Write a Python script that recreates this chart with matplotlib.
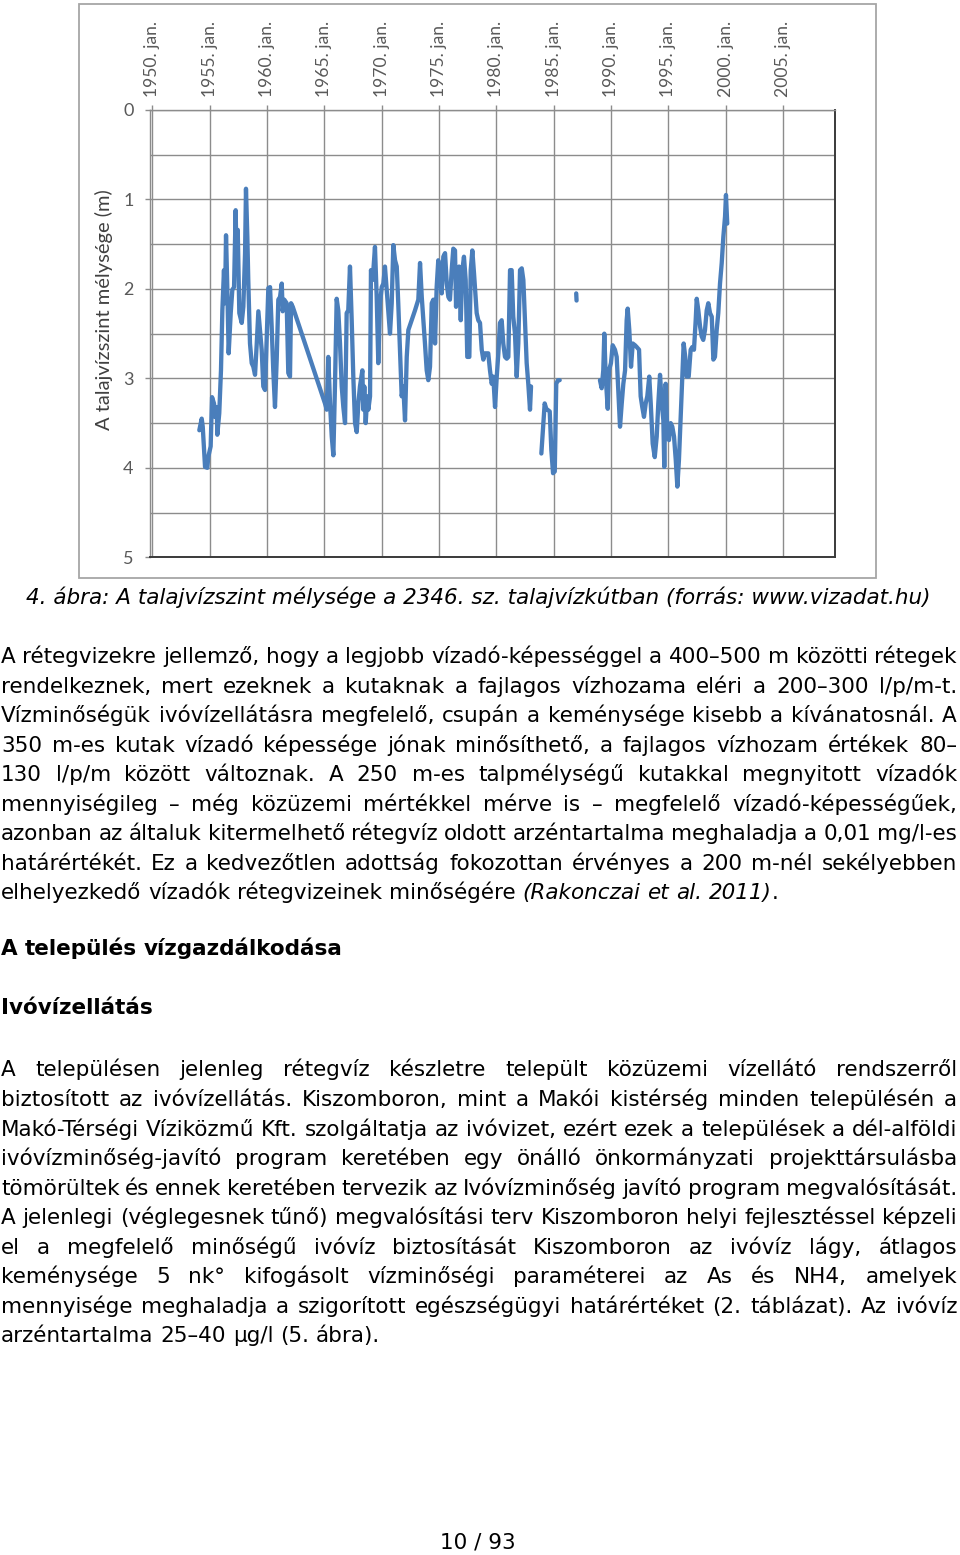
import matplotlib
matplotlib.use('Agg')
import matplotlib.pyplot as plt
from matplotlib.patches import Rectangle

nan = float('nan')

# ---------------- data ----------------
years = [
    1954.09, 1954.30, 1954.39, 1954.59, 1954.79, 1954.87, 1955.08, 1955.20, 1955.37, 1955.46,
    1955.61, 1955.66, 1955.83, 1955.98, 1956.10, 1956.24, 1956.33, 1956.42, 1956.53, 1956.65,
    1956.83, 1956.97, 1957.12, 1957.26, 1957.35, 1957.44, 1957.58, 1957.79, 1957.93, 1958.08,
    1958.16, 1958.28, 1958.36, 1958.51, 1958.66, 1958.80, 1958.95, 1959.10, 1959.24, 1959.38,
    1959.53, 1959.67, 1959.82, 1959.97, 1960.11, 1960.26, 1960.40, 1960.54, 1960.69, 1960.84,
    1960.98, 1961.13, 1961.28, 1961.36, 1961.50, 1961.71, 1961.85, 1962.00, 1962.09, 1962.24,
    1965.05, 1965.20, 1965.34, 1965.49, 1965.64, 1965.78, 1965.92, 1966.07, 1966.21, 1966.36,
    1966.51, 1966.65, 1966.80, 1966.94, 1967.08, 1967.23, 1967.38, 1967.52, 1967.67, 1967.82,
    1967.96, 1968.10, 1968.31, 1968.39, 1968.48, 1968.60, 1968.74, 1968.83, 1968.98, 1969.06,
    1969.21, 1969.41, 1969.56, 1969.70, 1969.85, 1970.00, 1970.14, 1970.28, 1970.43, 1970.57,
    1970.72, 1970.87, 1971.01, 1971.16, 1971.31, 1971.44, 1971.59, 1971.74, 1971.88, 1972.03,
    1972.18, 1972.32, 1972.61, 1972.90, 1973.19, 1973.34, 1973.49, 1973.63, 1973.77, 1973.92,
    1974.06, 1974.21, 1974.36, 1974.50, 1974.65, 1974.79, 1974.93, 1975.08, 1975.23, 1975.37,
    1975.52, 1975.67, 1975.81, 1975.95, 1976.10, 1976.24, 1976.39, 1976.48, 1976.59, 1976.74,
    1976.89, 1977.03, 1977.17, 1977.32, 1977.46, 1977.64, 1977.76, 1977.90, 1978.05, 1978.28,
    1978.42, 1978.57, 1978.72, 1978.86, 1979.01, 1979.29, 1979.44, 1979.59, 1979.73, 1979.88,
    1980.03, 1980.17, 1980.31, 1980.46, 1980.60, 1980.75, 1980.90, 1981.04, 1981.19, 1981.33,
    1981.47, 1981.62, 1981.77, 1981.91, 1982.06, 1982.21, 1982.35, 1982.49, 1982.64, 1982.78,
    1982.93, 1983.02, nan,
    1983.92, 1984.21, 1984.35, 1984.65, 1984.79, 1984.94, 1985.09, 1985.22, 1985.37, 1985.52,
    nan, 1986.96, 1986.99, nan,
    1989.03, 1989.18, 1989.32, 1989.41, 1989.53, 1989.71, 1989.82, 1989.99, 1990.14, 1990.34,
    1990.49, 1990.63, 1990.78, 1990.93, 1991.07, 1991.22, 1991.36, 1991.45, 1991.59, 1991.74,
    1991.89, 1992.09, 1992.24, 1992.44, 1992.58, 1992.72, 1992.87, 1993.02, 1993.16, 1993.33,
    1993.46, 1993.63, 1993.81, 1993.98, 1994.12, 1994.27, 1994.42, 1994.56, 1994.64, 1994.76,
    1994.90, 1995.05, 1995.20, 1995.34, 1995.49, 1995.64, 1995.78, 1995.92, 1996.07, 1996.21,
    1996.33, 1996.47, 1996.60, 1996.77, 1996.94, 1997.08, 1997.23, 1997.38, 1997.47, 1997.61,
    1997.76, 1997.90, 1998.04, 1998.19, 1998.34, 1998.48, 1998.63, 1998.78, 1998.92, 1999.06,
    1999.21, 1999.35, 1999.50, 1999.65, 1999.79, 1999.94, 2000.02, 2000.13,
]
depth_m = [
    3.58, 3.45, 3.54, 3.99, 4.00, 3.88, 3.76, 3.21, 3.28, 3.43,
    3.32, 3.63, 3.39, 2.91, 2.24, 1.79, 2.16, 1.40, 1.98, 2.72,
    2.27, 2.01, 1.98, 1.12, 1.79, 1.34, 2.27, 2.38, 2.20, 1.60,
    0.88, 1.42, 1.90, 2.61, 2.83, 2.87, 2.96, 2.61, 2.25, 2.46,
    2.68, 3.09, 3.13, 2.53, 1.99, 1.98, 2.42, 2.91, 3.32, 2.79,
    2.12, 2.09, 1.94, 2.25, 2.12, 2.16, 2.94, 2.98, 2.16, 2.20,
    3.28, 3.35, 2.76, 3.28, 3.65, 3.86, 3.09, 2.11, 2.24, 2.61,
    3.09, 3.32, 3.50, 2.27, 2.24, 1.75, 2.35, 2.98, 3.50, 3.60,
    3.28, 3.09, 2.91, 3.35, 3.09, 3.50, 3.20, 3.35, 3.20, 1.79,
    1.90, 1.53, 2.09, 2.83, 2.16, 1.98, 1.94, 1.75, 2.01, 2.24,
    2.50, 2.16, 1.51, 1.68, 1.75, 2.16, 2.68, 3.20, 3.09, 3.47,
    2.76, 2.46, 2.35, 2.24, 2.12, 1.71, 2.09, 2.35, 2.61, 2.91,
    3.02, 2.87, 2.16, 2.12, 2.61, 1.98, 1.68, 1.90, 2.05, 1.64,
    1.60, 1.94, 2.09, 2.12, 1.79, 1.55, 1.57, 2.20, 1.79, 1.75,
    2.35, 1.79, 1.64, 1.90, 2.76, 2.76, 1.79, 1.57, 1.83, 2.27,
    2.35, 2.38, 2.68, 2.79, 2.72, 2.72, 2.91, 3.06, 2.98, 3.32,
    2.98, 2.72, 2.38, 2.35, 2.61, 2.76, 2.78, 2.76, 1.79, 1.79,
    2.31, 2.50, 2.98, 2.61, 1.79, 1.77, 1.90, 2.35, 2.83, 3.06,
    3.35, 3.09, nan,
    3.84, 3.28, 3.34, 3.37, 3.80, 4.06, 4.04, 3.06, 3.02, 3.02,
    nan, 2.05, 2.13, nan,
    3.02, 3.11, 2.91, 2.50, 2.98, 3.34, 2.91, 2.83, 2.63, 2.68,
    2.76, 3.13, 3.54, 3.28, 3.06, 2.91, 2.35, 2.22, 2.46, 2.87,
    2.61, 2.63, 2.65, 2.68, 3.20, 3.32, 3.43, 3.28, 3.20, 2.98,
    3.28, 3.73, 3.88, 3.65, 3.28, 2.96, 3.28, 3.47, 3.99, 3.06,
    3.58, 3.69, 3.50, 3.54, 3.65, 3.91, 4.21, 3.91, 3.43, 2.98,
    2.61, 2.76, 2.98, 2.98, 2.68, 2.65, 2.68, 2.35, 2.11, 2.24,
    2.42, 2.53, 2.57, 2.46, 2.24, 2.16, 2.27, 2.31, 2.79, 2.76,
    2.46, 2.27, 1.94, 1.71, 1.42, 1.19, 0.95, 1.27,
]
tick_years = [1950, 1955, 1960, 1965, 1970, 1975, 1980, 1985, 1990, 1995, 2000, 2005]
tick_labels = [f"{y}. jan." for y in tick_years]
depth_ticks = [0, 1, 2, 3, 4, 5]
depth_minor = [0.5, 1.5, 2.5, 3.5, 4.5]
y_label = "A talajvízszint mélysége (m)"

caption = "4. ábra: A talajvízszint mélysége a 2346. sz. talajvízkútban (forrás: www.vizadat.hu)"
para1 = [
    "A rétegvizekre jellemző, hogy a legjobb vízadó-képességgel a 400–500 m közötti rétegek",
    "rendelkeznek, mert ezeknek a kutaknak a fajlagos vízhozama eléri a 200–300 l/p/m-t.",
    "Vízminőségük ivóvízellátásra megfelelő, csupán a keménysége kisebb a kívánatosnál. A",
    "350 m-es kutak vízadó képessége jónak minősíthető, a fajlagos vízhozam értékek 80–",
    "130 l/p/m között változnak. A 250 m-es talpmélységű kutakkal megnyitott vízadók",
    "mennyiségileg – még közüzemi mértékkel mérve is – megfelelő vízadó-képességűek,",
    "azonban az általuk kitermelhető rétegvíz oldott arzéntartalma meghaladja a 0,01 mg/l-es",
    "határértékét. Ez a kedvezőtlen adottság fokozottan érvényes a 200 m-nél sekélyebben",
    "elhelyezkedő vízadók rétegvizeinek minőségére *(Rakonczai et al. 2011)*.",
]
heading1 = "A település vízgazdálkodása"
heading2 = "Ivóvízellátás"
para2 = [
    "A településen jelenleg rétegvíz készletre települt közüzemi vízellátó rendszerről",
    "biztosított az ivóvízellátás. Kiszomboron, mint a Makói kistérség minden településén a",
    "Makó-Térségi Víziközmű Kft. szolgáltatja az ivóvizet, ezért ezek a települések a dél-alföldi",
    "ivóvízminőség-javító program keretében egy önálló önkormányzati projekttársulásba",
    "tömörültek és ennek keretében tervezik az Ivóvízminőség javító program megvalósítását.",
    "A jelenlegi (véglegesnek tűnő) megvalósítási terv Kiszomboron helyi fejlesztéssel képzeli",
    "el a megfelelő minőségű ivóvíz biztosítását Kiszomboron az ivóvíz lágy, átlagos",
    "keménysége 5 nk° kifogásolt vízminőségi paraméterei az As és NH4, amelyek",
    "mennyisége meghaladja a szigorított egészségügyi határértéket (2. táblázat). Az ivóvíz",
    "arzéntartalma 25–40 μg/l (5. ábra).",
]
page_no = "10 / 93"

# ---------------- figure ----------------
W, H = 960, 1555
fig = plt.figure(figsize=(W / 100, H / 100), dpi=100)
fig.patch.set_facecolor('white')
renderer = fig.canvas.get_renderer()

def fx(x):
    return x / W

def fy(y):
    return 1 - y / H

CHART_FONT = ['Lato', 'DejaVu Sans']

# outer chart frame
fig.add_artist(Rectangle((fx(79), fy(578)), (876 - 79) / W, (578 - 4) / H,
                         transform=fig.transFigure, fill=False,
                         edgecolor='#a6a6a6', lw=1.3))

ax = fig.add_axes([fx(150), fy(557.3), 685.3 / W, 447.3 / H])
ax.plot(years, depth_m, color='#4A7EBB', lw=3.1,
        solid_joinstyle='round', solid_capstyle='round', zorder=3)
ax.set_xlim(1949.79, 2009.555)
ax.set_ylim(5, 0)
ax.set_yticks(depth_ticks)
ax.set_yticks(depth_minor, minor=True)
ax.set_yticklabels([str(v) for v in depth_ticks], fontsize=13, color='#595959', family=CHART_FONT)
ax.xaxis.tick_top()
ax.set_xticks(tick_years)
ax.set_xticklabels(tick_labels, rotation=90, fontsize=12.6, color='#595959', family=CHART_FONT)
ax.grid(True, which='both', axis='y', color='#8c8c8c', lw=1.0, zorder=0)
ax.grid(True, which='major', axis='x', color='#8c8c8c', lw=1.0, zorder=0)
ax.set_axisbelow(True)
ax.tick_params(axis='y', which='minor', length=0)
ax.tick_params(axis='both', which='major', length=3.8, width=1.0, color='#8c8c8c', direction='out')
ax.tick_params(axis='x', which='major', pad=5.5)
ax.tick_params(axis='y', which='major', pad=8.0)
for side in ('left', 'top'):
    ax.spines[side].set_color('#8c8c8c')
    ax.spines[side].set_linewidth(1.0)
for side in ('right', 'bottom'):
    ax.spines[side].set_color('#3a3a3a')
    ax.spines[side].set_linewidth(1.4)

fig.text(fx(104), fy(310), y_label, rotation=90, ha='center', va='center',
         fontsize=14.5, color='#404040', family=CHART_FONT)

# ---------------- text block ----------------
FAM = 'DejaVu Sans'

def measure(s, size, style='normal', weight='normal'):
    t = fig.text(0, 0, s, fontsize=size, family=FAM, style=style, weight=weight)
    w = t.get_window_extent(renderer=renderer).width
    t.remove()
    return w

FS = 10 * 380 / measure("arzéntartalma 25–40 μg/l (5. ábra).", 10)
SPACE = measure("a a", FS) - measure("aa", FS)

def parse(line):
    words = []
    ital = False
    for tok in line.split(' '):
        segs = []
        cur = ''
        for ch in tok:
            if ch == '*':
                if cur:
                    segs.append((cur, ital))
                cur = ''
                ital = not ital
            else:
                cur += ch
        if cur:
            segs.append((cur, ital))
        words.append(segs)
    return words

def draw_line(line, y, justify, x0=1.0, x1=957.0, weight='normal'):
    words = parse(line)
    widths = []
    for segs in words:
        widths.append(sum(measure(s, FS, 'italic' if it else 'normal', weight) for s, it in segs))
    n = len(words)
    if justify and n > 1:
        gap = (x1 - x0 - sum(widths)) / (n - 1)
    else:
        gap = SPACE
    x = x0
    for segs, wd in zip(words, widths):
        xs = x
        for s, it in segs:
            fig.text(fx(xs), fy(y), s, fontsize=FS, family=FAM,
                     style='italic' if it else 'normal', weight=weight,
                     color='black', ha='left', va='baseline')
            xs += measure(s, FS, 'italic' if it else 'normal', weight)
        x += wd + gap

LS = 29.55
fig.text(fx(478), fy(604), caption, fontsize=FS, family=FAM, style='italic',
         ha='center', va='baseline', color='black')

for i, line in enumerate(para1):
    draw_line(line, 663 + i * LS, justify=(i < len(para1) - 1))

draw_line(heading1, 955, justify=False, weight='bold')
draw_line(heading2, 1014, justify=False, weight='bold')

for i, line in enumerate(para2):
    draw_line(line, 1076.5 + i * LS, justify=(i < len(para2) - 1))

fig.text(fx(478), fy(1549), page_no, fontsize=FS, family=FAM,
         ha='center', va='baseline', color='black')

fig.savefig('out.png', dpi=100, facecolor='white')
